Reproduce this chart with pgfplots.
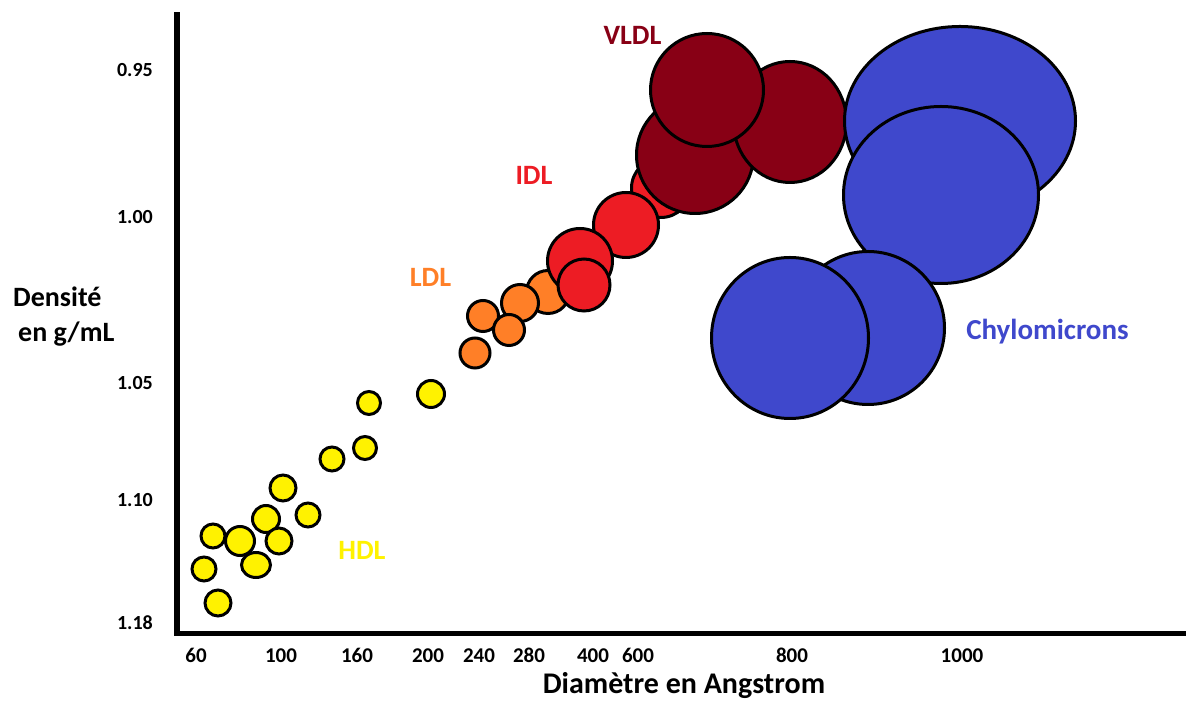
\documentclass[border=0pt]{standalone}
\usepackage{pgfplots}
\pgfplotsset{compat=1.18}
\usepackage{pgfplotstable}
\usepackage{fontspec}
\setmainfont{Carlito}

\definecolor{hdl}{RGB}{255,242,0}
\definecolor{ldl}{RGB}{255,127,39}
\definecolor{idl}{RGB}{237,28,36}
\definecolor{vldl}{RGB}{136,0,21}
\definecolor{chylo}{RGB}{63,72,204}

% bubble = ellipse with radii rx, ry (fill radius, outline drawn on top)
\pgfdeclareplotmark{blob}{%
  \pgfpathellipse{\pgfpointorigin}{\pgfpoint{\rx bp}{0pt}}{\pgfpoint{0pt}{\ry bp}}%
  \pgfusepathqfillstroke}

% x, y: position on the drawing (y from bottom), rx ry: radii
\pgfplotstableread{
x y rx ry
213 166 12 12
266 183 13.5 13.5
240 161 14.5 14.5
279 161 13 13
256 137 14.5 12.5
204 133 12 12
218 99 13 13
283 214 13 13
308 187 12 12
332 243 12 12
365 254 11.5 11.5
369 299 11.5 11.5
431 308 13.5 13.5
}\hdltab
\pgfplotstableread{
x y rx ry
548 410 21.5 21.5
520 399 18.5 18.5
483 386 15.5 15.5
509 372 15.5 15.5
475 349 15 15
}\ldltab
\pgfplotstableread{
x y rx ry
661 514 29.5 29.5
626 477 32.5 32.5
580 441 32.5 32.5
584 417 26 26
}\idltab
\pgfplotstableread{
x y rx ry
695 547 58.5 58.5
790 580 56.5 60.5
707 612 56.5 56.5
}\vldltab
\pgfplotstableread{
x y rx ry
960 581 115.5 94.5
941 507 97.5 88.5
868 374 76.5 76.5
790 364 78.5 80.5
}\chylotab

\begin{document}
\begin{tikzpicture}
\begin{axis}[
  x=1bp, y=1bp, scale only axis,
  xmin=177, xmax=1183, ymin=68.5, ymax=687,
  axis x line=bottom, axis y line=left,
  axis line style={-},
  x axis line style={-, line width=5bp, line cap=rect},
  y axis line style={-, line width=6bp, line cap=rect},
  xtick={196,281,357,428,479,529,593,638,792,962},
  xticklabels={60,100,160,200,240,280,400,600,800,1000},
  ytick={79,202,319,485,632},
  yticklabels={1.18,1.10,1.05,1.00,0.95},
  major tick length=0pt, tick style={draw=none},
  xticklabel style={font=\bfseries\fontsize{21bp}{24bp}\selectfont,
    inner sep=0pt, anchor=center, yshift=-22bp},
  yticklabel style={font=\bfseries\fontsize{20bp}{22bp}\selectfont,
    inner sep=0pt, anchor=east, xshift=-24bp},
  clip=false,
  visualization depends on={\thisrow{rx}\as\rx},
  visualization depends on={\thisrow{ry}\as\ry},
  every axis plot/.append style={only marks, mark=blob},
]
\addplot[mark options={fill=hdl, draw=black, line width=3bp}] table {\hdltab};
\addplot[mark options={fill=ldl, draw=black, line width=3bp}] table {\ldltab};
\addplot[mark options={fill=idl, draw=black, line width=3bp}] table {\idltab};
\addplot[mark options={fill=vldl, draw=black, line width=3bp}] table {\vldltab};
\addplot[mark options={fill=chylo, draw=black, line width=3bp}] table {\chylotab};

\begin{scope}[every node/.style={inner sep=0pt, font=\bfseries\fontsize{28bp}{34bp}\selectfont}]
\node[anchor=base, text=vldl] at (axis cs:632.5,657) {VLDL};
\node[anchor=base, text=idl] at (axis cs:534,517) {IDL};
\node[anchor=base, text=ldl] at (axis cs:430.5,415) {LDL};
\node[anchor=base, text=hdl] at (axis cs:362,142) {HDL};
\node[anchor=base, text=chylo, font=\bfseries\fontsize{29bp}{34bp}\selectfont] at (axis cs:1047.5,362) {Chylomicrons};
\node[anchor=base west] at (axis cs:13,395) {Densité};
\node[anchor=base west] at (axis cs:18,360) {en g/mL};
\node[anchor=base, font=\bfseries\fontsize{30bp}{34bp}\selectfont] at (axis cs:684,8) {Diamètre en Angstrom};
\end{scope}

\coordinate (bl) at (axis cs:0,0);
\coordinate (tr) at (axis cs:1186,702);
\end{axis}
\pgfresetboundingbox
\path (bl) rectangle (tr);
\end{tikzpicture}
\end{document}
